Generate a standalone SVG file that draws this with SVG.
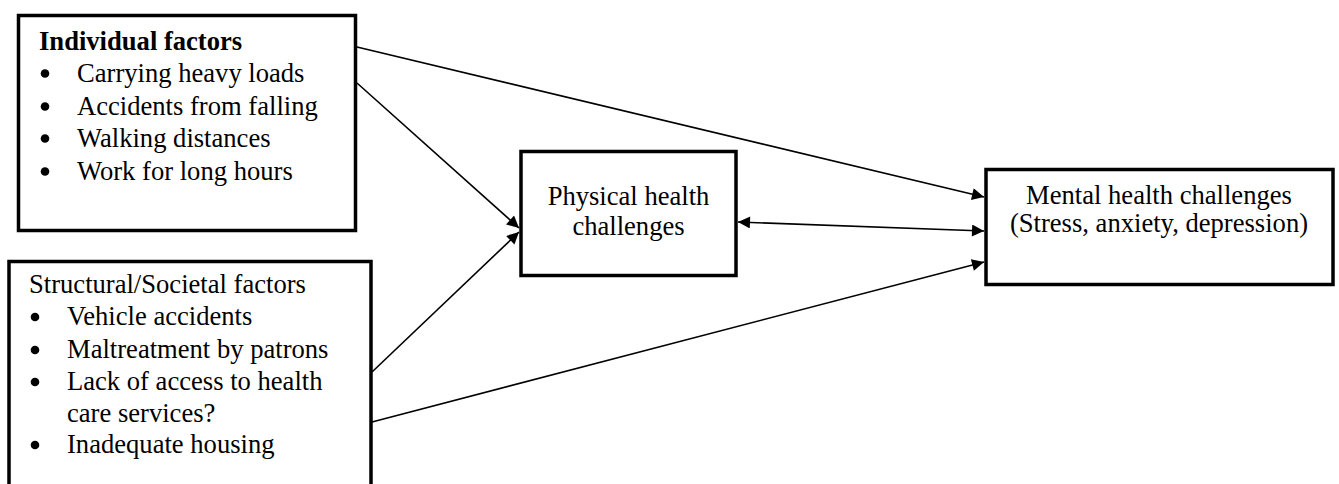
<svg xmlns="http://www.w3.org/2000/svg" width="1339" height="484" viewBox="0 0 1339 484">
<style>
.box{fill:#fff;stroke:#000;stroke-width:3.5}
.t{font-family:"Liberation Serif","Times New Roman",serif;font-size:26.6px;fill:#000}
.b{font-weight:bold}
.c{text-anchor:middle}
.ln{stroke:#000;stroke-width:1.6;fill:none}
</style>
<defs>
<marker id="ah" viewBox="0 0 10 10" refX="10" refY="5" markerWidth="16" markerHeight="12" markerUnits="userSpaceOnUse" orient="auto-start-reverse">
<path d="M0,0 L10,5 L0,10 z" fill="#000"/>
</marker>
</defs>
<rect width="1339" height="484" fill="#fff"/>
<g id="individual">
<rect class="box" x="18.5" y="15.5" width="337" height="215"/>
<text class="t b" x="39" y="50">Individual factors</text>
<circle cx="45" cy="73.5" r="4.3"/>
<text class="t" x="77" y="82">Carrying heavy loads</text>
<circle cx="45" cy="106.5" r="4.3"/>
<text class="t" x="77" y="115">Accidents from falling</text>
<circle cx="45" cy="138.5" r="4.3"/>
<text class="t" x="77" y="147">Walking distances</text>
<circle cx="45" cy="171.5" r="4.3"/>
<text class="t" x="77" y="180">Work for long hours</text>
</g>
<g id="structural">
<rect class="box" x="9" y="261.5" width="362" height="240"/>
<text class="t" x="29" y="293">Structural/Societal factors</text>
<circle cx="35" cy="317" r="4.3"/>
<text class="t" x="67" y="325">Vehicle accidents</text>
<circle cx="35" cy="350" r="4.3"/>
<text class="t" x="67" y="358">Maltreatment by patrons</text>
<circle cx="35" cy="382" r="4.3"/>
<text class="t" x="67" y="390">Lack of access to health</text>
<text class="t" x="67" y="422">care services?</text>
<circle cx="35" cy="445" r="4.3"/>
<text class="t" x="67" y="453">Inadequate housing</text>
</g>
<g id="physical">
<rect class="box" x="521" y="151.5" width="215" height="124"/>
<text class="t c" x="628.5" y="205">Physical health</text>
<text class="t c" x="628.5" y="235">challenges</text>
</g>
<g id="mental">
<rect class="box" x="986" y="169.5" width="347" height="115"/>
<text class="t c" x="1159" y="204">Mental health challenges</text>
<text class="t c" x="1159" y="232">(Stress, anxiety, depression)</text>
</g>
<g id="connectors">
<line class="ln" x1="357" y1="47" x2="984" y2="197" marker-end="url(#ah)"/>
<line class="ln" x1="357" y1="83" x2="519" y2="228" marker-end="url(#ah)"/>
<line class="ln" x1="372" y1="372" x2="519" y2="232" marker-end="url(#ah)"/>
<line class="ln" x1="372" y1="422" x2="984" y2="262" marker-end="url(#ah)"/>
<line class="ln" x1="738" y1="222" x2="984" y2="231" marker-start="url(#ah)" marker-end="url(#ah)"/>
</g>
</svg>
